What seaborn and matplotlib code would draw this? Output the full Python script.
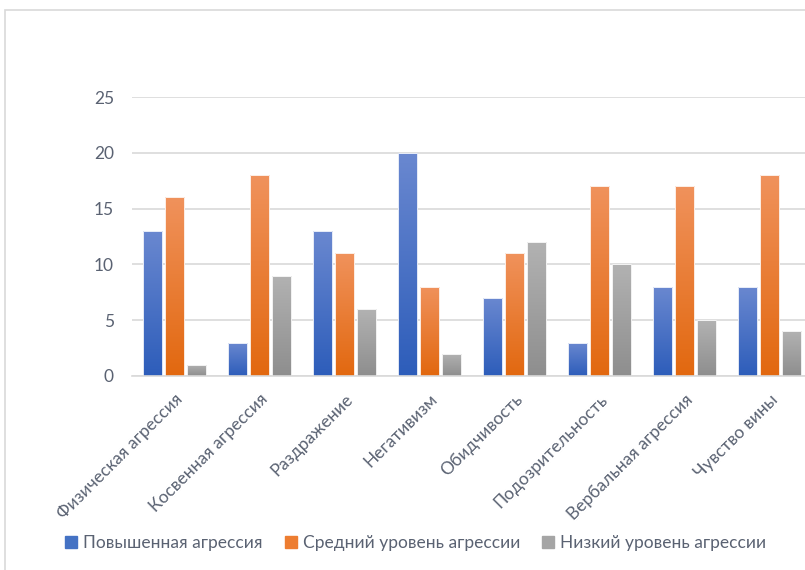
import numpy as np
import pandas as pd
import matplotlib
matplotlib.use("Agg")
import matplotlib.pyplot as plt
import seaborn as sns
from matplotlib.colors import LinearSegmentedColormap
from matplotlib.patches import Rectangle
from matplotlib.lines import Line2D

categories = ["Физическая агрессия", "Косвенная агрессия", "Раздражение", "Негативизм",
              "Обидчивость", "Подозрительность", "Вербальная агрессия", "Чувство вины"]
series = ["Повышенная агрессия", "Средний уровень агрессии", "Низкий уровень агрессии"]
high = [13, 3, 13, 20, 7, 3, 8, 8]
medium = [16, 18, 11, 8, 11, 17, 17, 18]
low = [1, 9, 6, 2, 12, 10, 5, 4]

base_colors = ["#4472C4", "#ED7D31", "#A5A5A5"]
gradients = [("#6A88D0", "#2D5DBA"), ("#F0925C", "#E2680F"), ("#B2B2B2", "#8E8E8E")]
text_color = "#5A6272"
grid_color = "#D9D9D9"

df = pd.DataFrame({
    "category": categories * 3,
    "series": [series[0]] * 8 + [series[1]] * 8 + [series[2]] * 8,
    "value": high + medium + low,
})

sns.set_theme(style="white")
plt.rcParams["font.family"] = ["Lato", "DejaVu Sans"]

fig = plt.figure(figsize=(8.05, 5.70), dpi=100)
W, H = 805, 570
ax = fig.add_axes([132 / W, 194 / H, 680 / W, 279 / H])

sns.barplot(data=df, x="category", y="value", hue="series", order=categories,
            hue_order=series, palette=base_colors, width=0.78, gap=0.13,
            ax=ax, legend=False, edgecolor="white", linewidth=0.6)

# vertical gradient fill for each bar, clipped to the bar shape
n = len(categories)
for i, patch in enumerate(ax.patches[:3 * n]):
    s = i // n
    cmap = LinearSegmentedColormap.from_list(f"g{s}", [gradients[s][1], gradients[s][0]])
    x0, y0 = patch.get_x(), patch.get_y()
    w, h = patch.get_width(), patch.get_height()
    grad = np.linspace(0, 1, 256).reshape(-1, 1)
    im = ax.imshow(grad, cmap=cmap, origin="lower", aspect="auto",
                   extent=[x0, x0 + w, y0, y0 + h], zorder=patch.get_zorder(),
                   interpolation="bicubic")
    im.set_clip_path(patch)
    patch.set_facecolor("none")
    patch.set_zorder(patch.get_zorder() + 0.1)

ax.set_xlim(-0.5, n - 0.5)
ax.set_ylim(0, 25)
ax.set_yticks([0, 5, 10, 15, 20, 25])
ax.yaxis.grid(True, color=grid_color, linewidth=1.2)
ax.set_axisbelow(True)
for side in ["top", "right", "left"]:
    ax.spines[side].set_visible(False)
ax.spines["bottom"].set_color(grid_color)
ax.spines["bottom"].set_linewidth(1.2)
ax.set_xlabel("")
ax.set_ylabel("")
ax.tick_params(axis="y", length=0, pad=13, labelsize=12.5, labelcolor=text_color)
ax.tick_params(axis="x", length=0, pad=11, labelsize=12.5, labelcolor=text_color)
for lbl in ax.get_xticklabels():
    lbl.set_rotation(45)
    lbl.set_ha("right")
    lbl.set_rotation_mode("anchor")

handles = [Line2D([], [], marker="s", linestyle="none", markersize=8,
                  markerfacecolor=c, markeredgecolor=c) for c in base_colors]
fig.legend(handles, series, loc="center", bbox_to_anchor=(416 / W, 1 - 543 / H),
           ncol=3, frameon=False, fontsize=12.5, labelcolor=text_color,
           handlelength=0.6, handletextpad=0.4, columnspacing=1.3)

# chart frame
fig.patches.append(Rectangle((5 / W, -0.05), 1.2, 1 - 10 / H + 0.05,
                             transform=fig.transFigure, fill=False,
                             edgecolor="#D9D9D9", linewidth=1.2))

fig.savefig("out.png", dpi=100, facecolor="white")
